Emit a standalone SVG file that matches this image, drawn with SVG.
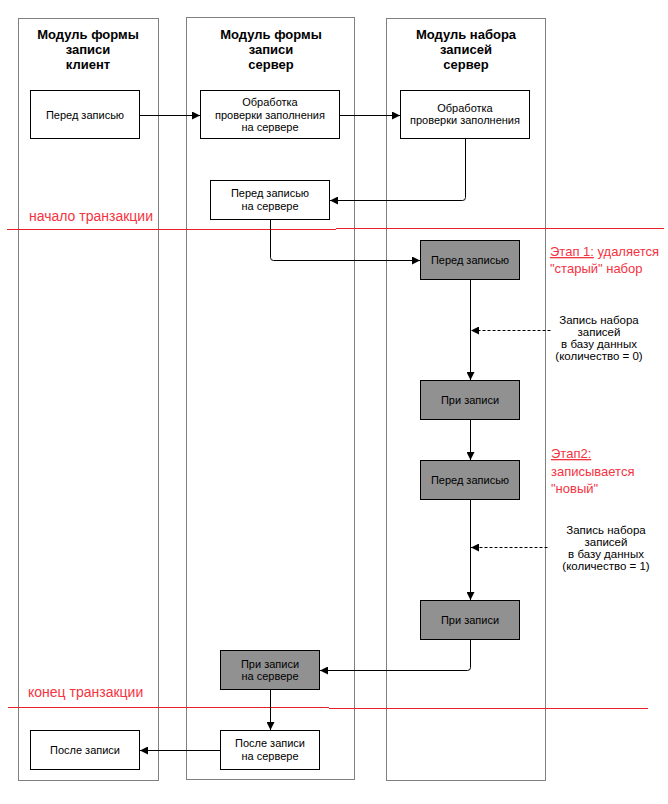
<svg xmlns="http://www.w3.org/2000/svg" width="668" height="804" viewBox="0 0 668 804">
<style>
.lane{fill:#fff;stroke:#808080;stroke-width:1}
.hdr{font-family:"Liberation Sans",Arial,sans-serif;font-size:13px;font-weight:bold;fill:#000;text-anchor:middle}
.box{fill:#fff;stroke:#000;stroke-width:1}
.gbox{fill:#919191;stroke:#000;stroke-width:1}
.t{font-family:"Liberation Sans",Arial,sans-serif;font-size:11px;fill:#000;text-anchor:middle}
.n{font-size:11.5px}
.red{font-family:"Liberation Sans",Arial,sans-serif;font-size:13px;fill:#f5333f}
.big{font-size:14px}
.rl{stroke:#e8202a;stroke-width:1;fill:none}
.c{stroke:#000;stroke-width:1;fill:none;marker-end:url(#ah)}
.d{stroke:#000;stroke-width:1;fill:none;stroke-dasharray:3,2;marker-end:url(#ah)}
</style>
<defs>
<marker id="ah" markerUnits="userSpaceOnUse" markerWidth="8" markerHeight="8" refX="8" refY="4" orient="auto">
<path d="M0,0 L8,4 L0,8 z" fill="#000"/>
</marker>
</defs>
<rect width="668" height="804" fill="#fff"/>
<g id="lane-client">
<rect class="lane" x="18.5" y="18.5" width="140" height="762"/>
<text class="hdr" x="88" y="39">Модуль формы</text>
<text class="hdr" x="88" y="54">записи</text>
<text class="hdr" x="88" y="68.5">клиент</text>
</g>
<g id="lane-server">
<rect class="lane" x="186.5" y="17.5" width="168" height="762"/>
<text class="hdr" x="271" y="39">Модуль формы</text>
<text class="hdr" x="271" y="54">записи</text>
<text class="hdr" x="271" y="68.5">сервер</text>
</g>
<g id="lane-recordset">
<rect class="lane" x="386.5" y="18.5" width="159" height="762"/>
<text class="hdr" x="466" y="39">Модуль набора</text>
<text class="hdr" x="466" y="54">записей</text>
<text class="hdr" x="466" y="68.5">сервер</text>
</g>
<g id="transaction-marks">
<path class="rl" d="M7,229.5 H336 M336,228.5 H664"/>
<text class="red big" x="29" y="220.5">начало транзакции</text>
<path class="rl" d="M8,707.5 H329 M329,708.5 H648"/>
<text class="red big" x="28" y="697">конец транзакции</text>
<text class="red" x="550" y="256"><tspan text-decoration="underline">Этап 1:</tspan> удаляется</text>
<text class="red" x="550" y="273">"старый" набор</text>
<text class="red" x="551" y="458" text-decoration="underline">Этап2:</text>
<text class="red" x="551" y="475.5">записывается</text>
<text class="red" x="551" y="493">"новый"</text>
</g>
<g id="connectors">
<path class="c" d="M139.5,115.5 H200"/>
<path class="c" d="M339.5,115.5 H400"/>
<path class="c" d="M465.5,139 V197.5 Q465.5,200.5 462.5,200.5 H330"/>
<path class="c" d="M270.5,219.5 V257.5 Q270.5,260.5 273.5,260.5 H420"/>
<path class="c" d="M470.5,279.5 V380"/>
<path class="d" d="M550.5,330.5 H471"/>
<path class="c" d="M470.5,419.5 V460"/>
<path class="d" d="M547.5,547.5 H471"/>
<path class="c" d="M470.5,499.5 V600"/>
<path class="c" d="M470.5,639.5 V667.5 Q470.5,670.5 467.5,670.5 H320"/>
<path class="c" d="M270.5,689.5 V730"/>
<path class="c" d="M220.5,750.5 H140"/>
</g>
<g id="n-client-before">
<rect class="box" x="30.5" y="90.5" width="109" height="48"/>
<text class="t" x="85" y="118.5">Перед записью</text>
</g>
<g id="n-server-check">
<rect class="box" x="200.5" y="90.5" width="139" height="48"/>
<text class="t" x="270" y="106">Обработка</text>
<text class="t" x="270" y="118.5">проверки заполнения</text>
<text class="t" x="270" y="131">на сервере</text>
</g>
<g id="n-set-check">
<rect class="box" x="400.5" y="90.5" width="129" height="48"/>
<text class="t" x="465" y="111.5">Обработка</text>
<text class="t" x="465" y="124">проверки заполнения</text>
</g>
<g id="n-server-before">
<rect class="box" x="210.5" y="180.5" width="119" height="39"/>
<text class="t" x="270" y="197">Перед записью</text>
<text class="t" x="270" y="210">на сервере</text>
</g>
<g id="n-set-before-1">
<rect class="gbox" x="420.5" y="240.5" width="99" height="39"/>
<text class="t" x="470" y="263.5">Перед записью</text>
</g>
<g id="n-set-onwrite-1">
<rect class="gbox" x="420.5" y="380.5" width="99" height="39"/>
<text class="t" x="470" y="403.5">При записи</text>
</g>
<g id="n-note-1">
<text class="t n" x="599" y="323.5">Запись набора</text>
<text class="t n" x="599" y="335.5">записей</text>
<text class="t n" x="599" y="347.5">в базу данных</text>
<text class="t n" x="599" y="359.5">(количество = 0)</text>
</g>
<g id="n-set-before-2">
<rect class="gbox" x="420.5" y="460.5" width="99" height="39"/>
<text class="t" x="470" y="483.5">Перед записью</text>
</g>
<g id="n-note-2">
<text class="t n" x="606" y="533.5">Запись набора</text>
<text class="t n" x="606" y="545.5">записей</text>
<text class="t n" x="606" y="557.5">в базу данных</text>
<text class="t n" x="606" y="569.5">(количество = 1)</text>
</g>
<g id="n-set-onwrite-2">
<rect class="gbox" x="420.5" y="600.5" width="99" height="39"/>
<text class="t" x="470" y="623.5">При записи</text>
</g>
<g id="n-server-onwrite">
<rect class="gbox" x="220.5" y="650.5" width="99" height="39"/>
<text class="t" x="270" y="667.5">При записи</text>
<text class="t" x="270" y="680">на сервере</text>
</g>
<g id="n-server-after">
<rect class="box" x="220.5" y="730.5" width="99" height="39"/>
<text class="t" x="270" y="747">После записи</text>
<text class="t" x="270" y="760">на сервере</text>
</g>
<g id="n-client-after">
<rect class="box" x="30.5" y="730.5" width="109" height="39"/>
<text class="t" x="85" y="753.5">После записи</text>
</g>
</svg>
